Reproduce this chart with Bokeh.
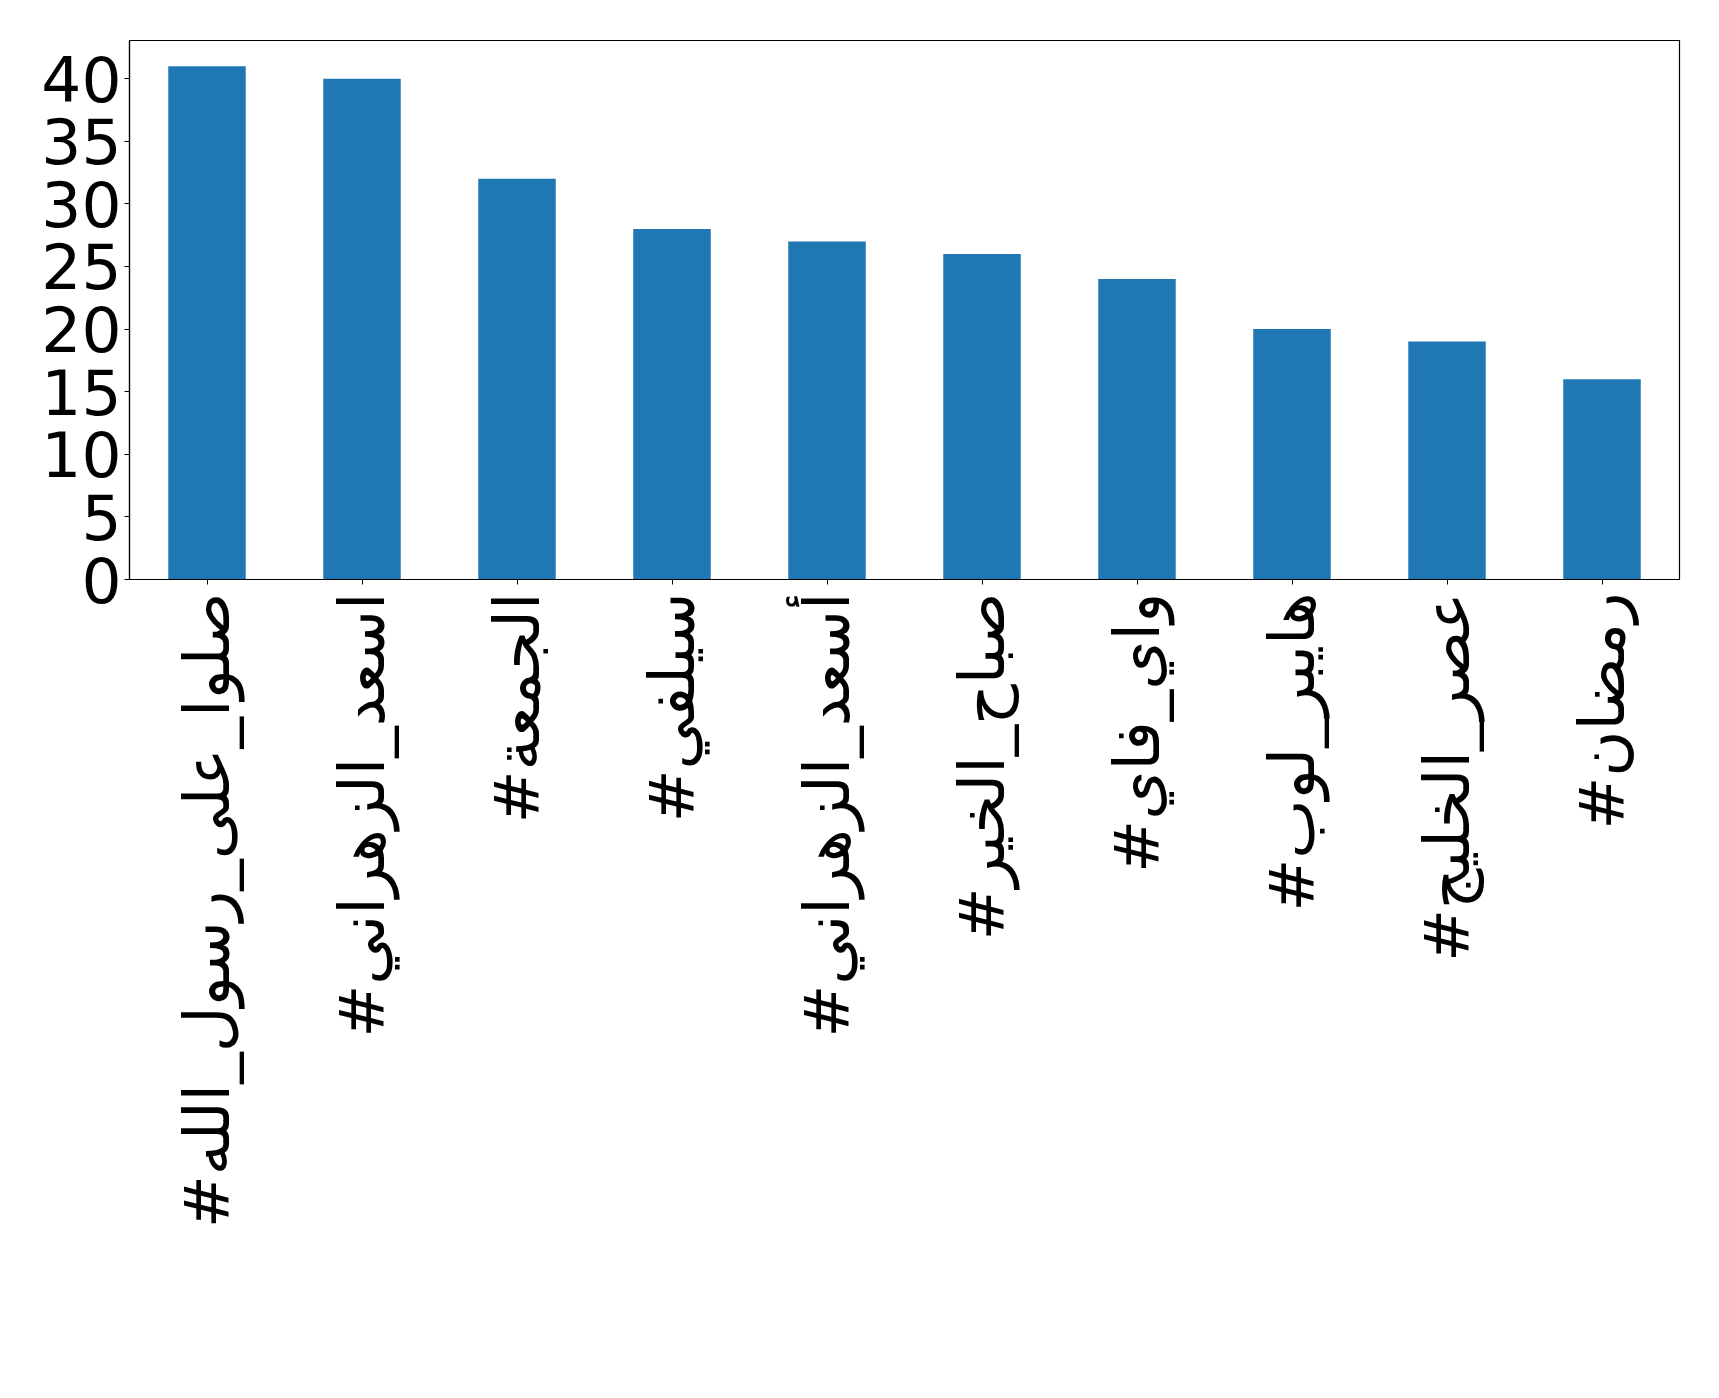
import math
from bokeh.plotting import figure
from bokeh.models import FactorRange, Range1d, FixedTicker, ColumnDataSource
from bokeh.embed import file_html
from bokeh.resources import INLINE

hashtags = [
    "#صلوا_على_رسول_الله",
    "#اسعد_الزهراني",
    "#الجمعة",
    "#سيلفي",
    "#أسعد_الزهراني",
    "#صباح_الخير",
    "#واي_فاي",
    "#هايبر_لوب",
    "#عصر_الخليج",
    "#رمضان",
]
counts = [41, 40, 32, 28, 27, 26, 24, 20, 19, 16]
y_ticks = [0, 5, 10, 15, 20, 25, 30, 35, 40]

source = ColumnDataSource(dict(tag=hashtags, count=counts))

p = figure(
    width=1703, height=1382,
    x_range=FactorRange(factors=hashtags),
    y_range=Range1d(0, max(counts) * 1.05),
    output_backend="svg", toolbar_location=None,
)
p.min_border_left = 129
p.min_border_right = 24
p.min_border_top = 40
p.min_border_bottom = 803

p.vbar(x="tag", top="count", width=0.5, source=source,
       fill_color="#1f77b4", line_color=None)

p.xgrid.visible = False
p.ygrid.visible = False
p.outline_line_color = "black"
p.outline_line_width = 1.2
p.background_fill_color = "white"
p.border_fill_color = "white"

for ax in (p.xaxis[0], p.yaxis[0]):
    ax.axis_line_color = "black"
    ax.axis_line_width = 1.2
    ax.major_tick_line_color = "black"
    ax.major_tick_out = 5
    ax.major_tick_in = 0
    ax.minor_tick_line_color = None
    ax.major_label_text_font = "DejaVu Sans"
    ax.major_label_text_font_size = "63px"
    ax.major_label_text_color = "black"

p.yaxis[0].major_label_standoff = 3
p.xaxis[0].major_label_standoff = 8
p.yaxis[0].ticker = FixedTicker(ticks=y_ticks)
p.xaxis[0].major_label_orientation = math.pi / 2

open("out.html", "w").write(file_html(p, INLINE))
